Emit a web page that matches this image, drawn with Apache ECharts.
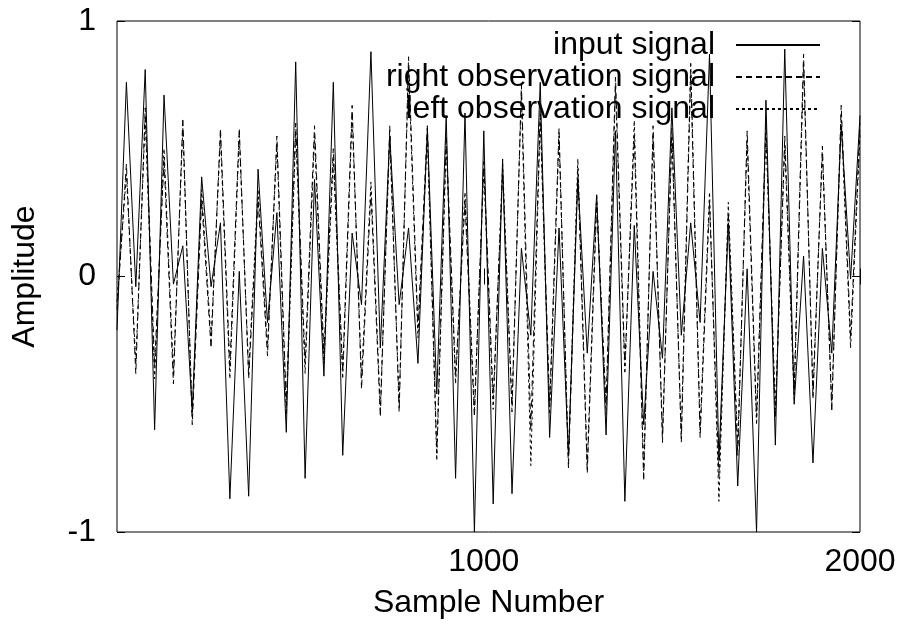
<!DOCTYPE html>
<html>
<head>
<meta charset="utf-8">
<script src="https://cdn.jsdelivr.net/npm/echarts@6/dist/echarts.min.js"></script>
<style>html,body{margin:0;padding:0;background:#fff}#c{width:900px;height:632px}</style>
</head>
<body>
<div id="c"></div>
<script>
const sampleNumbers = [25,50,75,100,125,150,175,200,225,250,275,300,325,350,375,400,425,450,475,500,
  525,550,575,600,625,650,675,700,725,750,775,800,825,850,875,900,925,950,975,1000,
  1025,1050,1075,1100,1125,1150,1175,1200,1225,1250,1275,1300,1325,1350,1375,1400,1425,1450,1475,1500,
  1525,1550,1575,1600,1625,1650,1675,1700,1725,1750,1775,1800,1825,1850,1875,1900,1925,1950,1975,2000];
const inputSignal = [-0.21,0.76,-0.04,0.81,-0.60,0.71,-0.03,0.12,-0.53,0.39,
  -0.04,0.21,-0.87,0.02,-0.86,0.42,-0.18,0.25,-0.61,0.84,
  -0.79,0.38,-0.39,0.76,-0.70,0.17,-0.11,0.88,-0.28,0.55,
  -0.11,0.19,-0.34,0.58,-0.46,0.63,-0.79,0.64,-1.00,0.57,
  -0.89,0.46,-0.85,0.11,-0.23,0.76,-0.63,0.19,-0.70,0.38,
  -0.30,0.32,-0.62,0.57,-0.88,0.20,-0.58,0.02,-0.32,0.66,
  -0.23,0.21,-0.18,0.87,-0.72,0.21,-0.82,0.03,-1.00,0.69,
  -0.66,0.89,-0.50,0.08,-0.73,0.11,-0.30,0.59,-0.01,0.63];
const rightObservation = [-0.13,0.44,-0.38,0.66,-0.35,0.46,-0.42,0.62,-0.58,0.30,
  -0.28,0.58,-0.36,0.58,-0.40,0.30,-0.31,0.55,-0.50,0.60,
  -0.34,0.59,-0.30,0.50,-0.37,0.67,-0.44,0.33,-0.55,0.59,
  -0.53,0.86,-0.20,0.59,-0.69,0.55,-0.39,0.29,-0.55,0.45,
  -0.48,0.40,-0.53,0.75,-0.60,0.65,-0.50,0.58,-0.75,0.42,
  -0.77,0.28,-0.50,0.78,-0.35,0.55,-0.80,0.59,-0.65,0.58,
  -0.65,0.80,-0.63,0.29,-0.78,0.25,-0.70,0.57,-0.55,0.60,
  -0.55,0.55,-0.45,0.87,-0.48,0.51,-0.53,0.67,-0.24,0.60];
const leftObservation = [-0.10,0.40,-0.34,0.62,-0.40,0.50,-0.38,0.58,-0.55,0.34,
  -0.25,0.55,-0.40,0.55,-0.37,0.34,-0.28,0.52,-0.54,0.56,
  -0.38,0.55,-0.34,0.46,-0.40,0.63,-0.40,0.37,-0.52,0.55,
  -0.50,0.82,-0.24,0.55,-0.72,0.51,-0.42,0.33,-0.52,0.42,
  -0.52,0.44,-0.50,0.72,-0.74,0.62,-0.54,0.55,-0.72,0.46,
  -0.74,0.32,-0.54,0.74,-0.38,0.61,-0.76,0.55,-0.62,0.55,
  -0.62,0.84,-0.60,0.33,-0.88,0.29,-0.66,0.53,-0.58,0.56,
  -0.52,0.51,-0.48,0.83,-0.45,0.48,-0.50,0.63,-0.28,0.56];
const seriesNames = ['input signal','right observation signal','left observation signal'];
const xTickValues = [1000, 2000];

const pairs = arr => sampleNumbers.map((x, i) => [x, arr[i]]);
const font = 'Liberation Sans, Arial, Helvetica, sans-serif';
const FS = 32;
const styles = [
  {type: 'solid'},
  {type: [6, 4]},
  {type: [3, 3]}
];
const dataSets = [inputSignal, rightObservation, leftObservation];
const legendTops = [29, 61, 93];

const chart = echarts.init(document.getElementById('c'));
chart.setOption({
  animation: false,
  backgroundColor: '#fff',
  grid: {left: 117, right: 40, top: 21, bottom: 100, show: true, borderColor: '#000', borderWidth: 1, backgroundColor: 'transparent'},
  legend: seriesNames.map((n, i) => ({
    data: [n], right: 79, top: legendTops[i], orient: 'vertical', align: 'right',
    itemWidth: 84, itemHeight: 14, padding: 0,
    itemStyle: {opacity: 0},
    textStyle: {fontSize: FS, fontFamily: font, color: '#000', padding: [0, 16, 0, 0]},
    selectedMode: false
  })),
  xAxis: [
    {type: 'value', min: 25, max: 2000, position: 'bottom',
     axisLine: {show: false}, splitLine: {show: false},
     axisTick: {inside: true, length: 8, customValues: xTickValues, lineStyle: {color: '#000'}},
     axisLabel: {customValues: xTickValues, formatter: v => String(v), fontSize: FS, fontFamily: font, color: '#000', margin: 14},
     name: 'Sample Number', nameLocation: 'middle', nameGap: 55,
     nameTextStyle: {fontSize: FS, fontFamily: font, color: '#000'}},
    {type: 'value', min: 25, max: 2000, position: 'top',
     axisLine: {show: false}, splitLine: {show: false},
     axisTick: {inside: true, length: 8, customValues: xTickValues, lineStyle: {color: '#000'}},
     axisLabel: {show: false}}
  ],
  yAxis: [
    {type: 'value', min: -1, max: 1, interval: 1, position: 'left',
     axisLine: {show: false}, splitLine: {show: false},
     axisTick: {inside: true, length: 8, lineStyle: {color: '#000'}},
     axisLabel: {fontSize: FS, fontFamily: font, color: '#000', margin: 21},
     name: 'Amplitude', nameLocation: 'middle', nameGap: 76,
     nameTextStyle: {fontSize: FS, fontFamily: font, color: '#000'}},
    {type: 'value', min: -1, max: 1, interval: 1, position: 'right',
     axisLine: {show: false}, splitLine: {show: false},
     axisTick: {inside: true, length: 8, lineStyle: {color: '#000'}},
     axisLabel: {show: false}}
  ],
  series: seriesNames.map((n, i) => ({
    name: n, type: 'line', xAxisIndex: 0, yAxisIndex: 0,
    data: pairs(dataSets[i]), symbol: 'none',
    lineStyle: {color: '#000', width: 1, type: styles[i].type},
    itemStyle: {color: '#000'}
  }))
});
</script>
</body>
</html>
